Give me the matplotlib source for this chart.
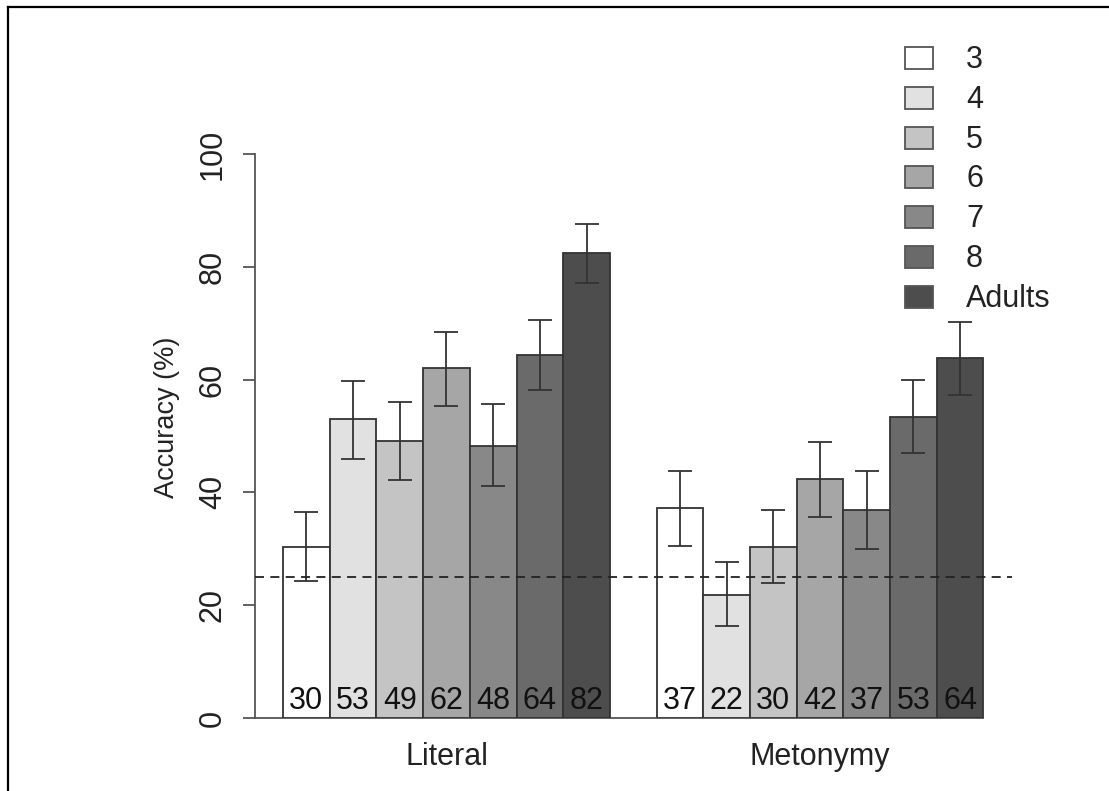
import numpy as np
import matplotlib
matplotlib.use("Agg")
import matplotlib.pyplot as plt
from matplotlib.patches import Rectangle

plt.rcParams['font.family'] = ['Liberation Sans', 'DejaVu Sans']

groups = ["Literal", "Metonymy"]
ages = ["3", "4", "5", "6", "7", "8", "Adults"]
literal = [30.4, 53.0, 49.1, 62.1, 48.3, 64.4, 82.4]
literal_lo = [24.3, 45.9, 42.2, 55.3, 41.2, 58.1, 77.2]
literal_hi = [36.6, 59.8, 56.0, 68.4, 55.6, 70.6, 87.6]
metonymy = [37.2, 21.8, 30.4, 42.4, 36.9, 53.4, 63.8]
metonymy_lo = [30.5, 16.4, 24.0, 35.7, 29.9, 46.9, 57.3]
metonymy_hi = [43.8, 27.6, 36.9, 48.9, 43.8, 60.0, 70.2]
chance = 25
yticks = [0, 20, 40, 60, 80, 100]

# gray(seq(1, 0.3, length = 7)) style fills
shades = np.linspace(1.0, 0.3, len(ages))
fills = [str(s) for s in shades]

W, H = 1109, 791
fig = plt.figure(figsize=(W / 100, H / 100), dpi=100)
# plot region in pixels: x 255..1011, y 718 (0) .. 41 (120)
ax = fig.add_axes([255 / W, (H - 718) / H, 756.5 / W, 676.8 / H])
ax.set_xlim(0.4, 16.6)
ax.set_ylim(0, 120)

edge = "#333333"
fs = 22

series = [(literal, literal_lo, literal_hi), (metonymy, metonymy_lo, metonymy_hi)]
for g, (vals, lo, hi) in enumerate(series):
    left0 = 1 + g * (len(ages) + 1)
    lefts = left0 + np.arange(len(ages))
    ax.bar(lefts, vals, width=1, align="edge", color=fills, edgecolor=edge,
           linewidth=1.3, zorder=2)
    centers = lefts + 0.5
    ax.errorbar(centers, vals,
                yerr=[np.array(vals) - np.array(lo), np.array(hi) - np.array(vals)],
                fmt="none", ecolor="#333333", elinewidth=1.3, capsize=8.6,
                capthick=1.3, zorder=3)
    for c, v in zip(centers, vals):
        ax.text(c, 1.6, str(int(round(v))), ha="center", va="baseline",
                fontsize=fs, color="#111111", zorder=4)
    ax.text(left0 + len(ages) / 2, -8.3, groups[g], ha="center", va="baseline",
            fontsize=fs, color="#222222", clip_on=False)

# baseline under bars
ax.plot([0.4, 16], [0, 0], color="#555555", lw=1.3, zorder=1, clip_on=False)
ax.axhline(chance, color="#222222", lw=1.3, ls=(0, (5, 3.5)), zorder=5)

for s in ["top", "right", "bottom"]:
    ax.spines[s].set_visible(False)
ax.spines["left"].set_bounds(0, 100)
ax.spines["left"].set_color("#555555")
ax.spines["left"].set_linewidth(1.3)
ax.set_xticks([])
ax.set_yticks(yticks)
ax.tick_params(axis="y", length=8.6, width=1.3, color="#555555", pad=11,
               labelsize=fs, labelcolor="#222222")
for lab in ax.get_yticklabels():
    lab.set_rotation(90)
    lab.set_va("center")

fig.text(167 / W, 1 - 417 / H, "Accuracy (%)", rotation=90, ha="center",
         va="center", fontsize=19.5, color="#222222")

# legend drawn by hand, top right
for i, (name, col) in enumerate(zip(ages, fills)):
    cy = 58 + i * 39.8
    fig.add_artist(Rectangle((905 / W, 1 - (cy + 11) / H), 28 / W, 22 / H,
                             transform=fig.transFigure, facecolor=col,
                             edgecolor="#555555", lw=1.3))
    fig.text(966 / W, 1 - (cy + 10) / H, name, ha="left", va="baseline",
             fontsize=fs, color="#222222")

# picture frame (top and left edges)
fig.add_artist(plt.Line2D([8 / W, 8 / W], [0, 1 - 7 / H], color="black", lw=1.6,
                          transform=fig.transFigure))
fig.add_artist(plt.Line2D([8 / W, 1], [1 - 7 / H, 1 - 7 / H], color="black", lw=1.6,
                          transform=fig.transFigure))

fig.savefig("out.png", dpi=100)
